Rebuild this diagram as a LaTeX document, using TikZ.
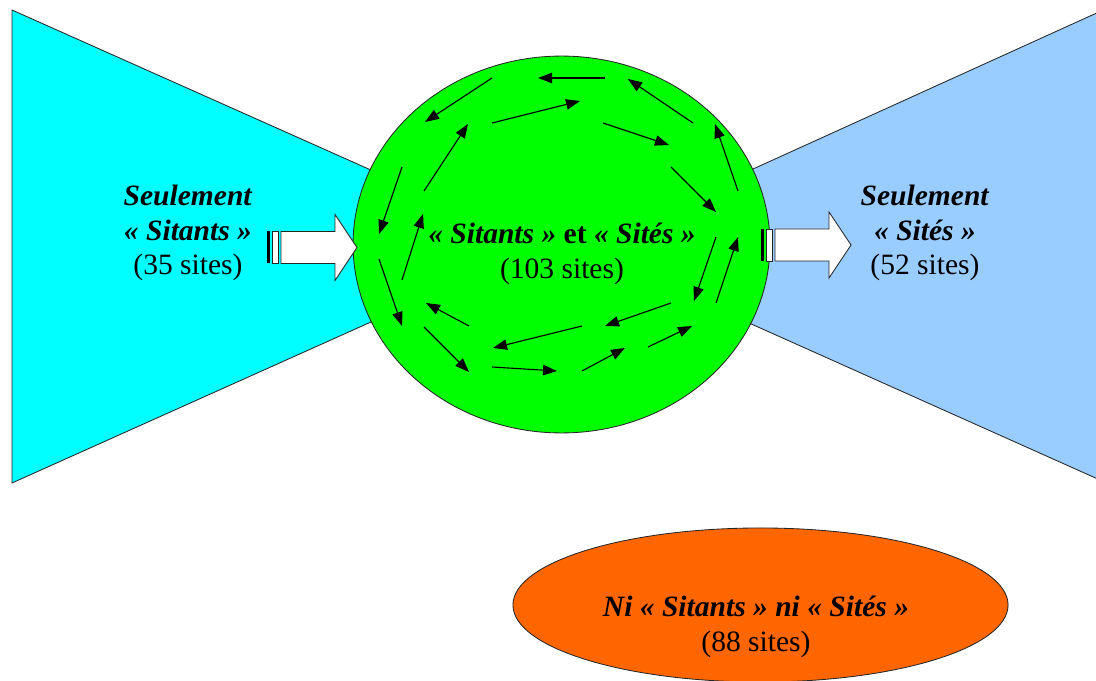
\documentclass[tikz,border=0pt]{standalone}
\usepackage{fontspec}
\setmainfont{Liberation Serif}
\usetikzlibrary{shapes.geometric,arrows.meta}
\definecolor{onlycyan}{RGB}{0,255,255}
\definecolor{onlyblue}{RGB}{153,204,255}
\definecolor{coregreen}{RGB}{0,255,0}
\definecolor{neitherorange}{RGB}{255,102,0}
\newcommand{\bfit}[1]{\textbf{\textit{#1}}}

\begin{document}
\begin{tikzpicture}[x=0.025cm, y=-0.025cm, >={Triangle[length=3.5mm,width=2.6mm]},
		outline/.style={draw=black!85, line width=0.6pt},
		sitetext/.style={align=center, inner sep=0pt, font=\fontsize{21}{24.8}\selectfont}]
		\useasboundingbox (0,0) rectangle (1096,681);
		
		% Side funnels
		\draw[outline, fill=onlycyan] (12,10) -- (400,183) -- (400,309) -- (12,483) -- cycle;
		\draw[outline, fill=onlyblue] (720,184) -- (1100,11.5) -- (1100,480) -- (720,310) -- cycle;
		
		% Core ellipse
		\node[outline, fill=coregreen, ellipse, inner sep=0pt, minimum width=10.42cm, minimum height=9.42cm] (core) at (561.5,244.5) {};
		
		% Circulating arrows
		\foreach \xa/\ya/\xb/\yb in {605/78/538/78, 492/78/425/122, 693/123/628/79, 492/123/580/101,
			603/123/669/145, 402/167/379/234, 424/191/468/124, 671/167/716/212, 738/191/715/124,
			402/280/423/214, 379/259/402/326, 716/237/694/301, 716/303/738/237, 469/326/426/303,
			424/327/469/372, 582/326/493/348, 671/303/605/326, 492/367/557/371, 582/371/625/348,
			648/347/692/326}
			\draw[line width=0.8pt, ->] (\xa,\ya) -- (\xb,\yb);
		
		% Striped arrows
		\foreach \ax/\ay in {267/247.5, 761/245} {
			\begin{scope}[shift={(\ax,\ay)}]
				\fill[black] (0,-16) rectangle (3,16);
				\draw[outline, fill=white] (5,-16) rectangle (11,16);
				\draw[outline, fill=white] (14,-16) -- (68,-16) -- (68,-33) -- (90,0) -- (68,33) -- (68,16) -- (14,16) -- cycle;
			\end{scope}
		}
		
		% Labels
		\node[sitetext] (onlysitants) at (188,233) {\bfit{Seulement}\\\bfit{« Sitants »}\\(35 sites)};
		\node[sitetext] (onlysites) at (925,233) {\bfit{Seulement}\\\bfit{« Sités »}\\(52 sites)};
		\node[sitetext] (bothlabel) at (562,254) {\bfit{« Sitants »} \textbf{et} \bfit{« Sités »}\\(103 sites)};
		
		% Neither
		\node[outline, fill=neitherorange, ellipse, inner sep=0pt, minimum width=12.375cm, minimum height=3.85cm] (neither) at (760.5,605) {};
		\node[sitetext] (neitherlabel) at (756,627) {\bfit{Ni « Sitants » ni « Sités »}\\(88 sites)};
	\end{tikzpicture}
\end{document}
